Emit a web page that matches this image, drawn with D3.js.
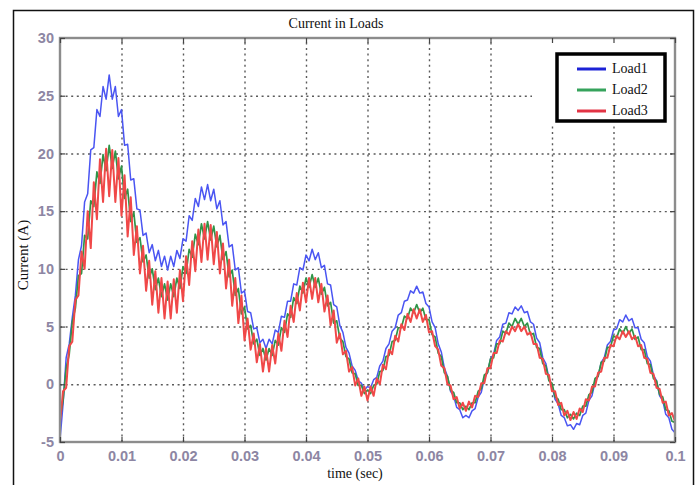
<!DOCTYPE html>
<html>
<head>
<meta charset="utf-8">
<script src="https://cdn.jsdelivr.net/npm/d3@7"></script>
<style>
  html, body { margin: 0; padding: 0; background: #fff; }
  svg { display: block; }
</style>
</head>
<body>
<svg id="chart" width="698" height="485"></svg>
<script>
// Sampling step of the simulated load currents (seconds)
const dt = 0.0005;

const seriesNames = ["Load1", "Load2", "Load3"];

const xTicks = [0, 0.01, 0.02, 0.03, 0.04, 0.05, 0.06, 0.07, 0.08, 0.09, 0.1];
const xTickLabels = ["0", "0.01", "0.02", "0.03", "0.04", "0.05", "0.06", "0.07", "0.08", "0.09", "0.1"];
const yTicks = [-5, 0, 5, 10, 15, 20, 25, 30];
const yTickLabels = ["-5", "0", "5", "10", "15", "20", "25", "30"];

// Load currents (A), one sample every dt from t = 0 to t = 0.1 s
const load1 = [-4.8,-1.7,2.3,3.5,5.8,7.7,10.8,12.0,15.8,16.5,20.3,20.5,23.8,23.2,25.8,24.7,26.8,24.7,25.8,23.2,23.8,20.7,20.8,17.7,17.8,15.2,15.1,12.9,13.1,11.4,12.1,10.7,11.6,10.2,11.1,9.9,11.1,10.2,11.6,10.9,12.6,12.4,14.6,14.2,16.1,15.4,17.1,16.0,17.3,15.9,16.9,15.2,15.9,13.8,14.1,11.9,12.1,9.9,10.1,7.9,8.1,6.3,6.2,4.8,4.9,3.6,3.9,3.1,3.9,3.5,4.7,4.5,5.9,5.8,7.2,7.2,8.7,8.6,10.1,9.9,11.2,10.7,11.7,10.8,11.4,10.1,10.3,8.7,8.6,6.9,6.7,5.1,4.5,3.2,2.7,1.6,1.2,0.3,0.1,-0.5,-0.2,-0.3,0.4,0.6,1.6,2.0,3.1,3.5,4.6,4.9,6.0,6.2,7.2,7.3,8.1,7.9,8.5,7.9,8.0,7.0,6.7,5.4,4.9,3.5,2.8,1.4,0.7,-0.6,-1.0,-2.0,-2.2,-2.9,-2.7,-2.9,-2.3,-2.1,-1.1,-0.7,0.5,1.0,2.2,2.6,3.8,4.1,5.2,5.3,6.2,6.1,6.7,6.4,6.8,6.2,6.3,5.4,5.2,4.0,3.6,2.3,1.8,0.5,-0.1,-1.3,-1.7,-2.7,-2.9,-3.6,-3.5,-3.9,-3.4,-3.5,-2.7,-2.5,-1.4,-1.0,0.2,0.7,1.9,2.3,3.4,3.7,4.7,4.8,5.6,5.4,6.0,5.5,5.7,4.9,4.9,3.9,3.6,2.4,2.0,0.8,0.3,-1.0,-1.4,-2.6,-2.9,-3.9,-4.2];

const load2 = [-3.0,-1.4,1.4,2.6,5.4,6.6,9.4,9.6,12.9,12.6,15.9,15.4,18.4,17.4,19.9,18.5,20.7,18.7,20.2,17.8,18.9,16.1,16.9,14.1,14.9,12.3,12.7,10.6,11.2,9.2,10.0,8.2,9.2,7.6,8.7,7.3,8.7,7.6,9.2,8.3,10.2,9.6,11.7,11.0,13.0,12.1,13.9,12.6,14.1,12.5,13.7,11.9,12.9,10.8,11.5,9.3,9.9,7.7,8.3,6.1,6.7,4.8,5.1,3.5,3.9,2.5,3.1,2.1,3.1,2.5,3.8,3.4,4.9,4.5,6.1,5.8,7.5,7.0,8.5,7.9,9.2,8.4,9.5,8.4,9.2,7.8,8.4,6.8,7.1,5.3,5.5,4.0,3.7,2.4,2.2,1.0,0.9,-0.1,-0.1,-0.8,-0.5,-0.8,-0.1,0.0,1.1,1.2,2.4,2.5,3.7,3.8,4.9,4.9,5.9,5.7,6.6,6.2,6.9,6.2,6.6,5.6,5.6,4.3,4.1,2.7,2.4,1.0,0.7,-0.5,-0.7,-1.6,-1.6,-2.2,-1.9,-2.2,-1.6,-1.6,-0.6,-0.4,0.8,1.0,2.2,2.3,3.5,3.5,4.6,4.4,5.3,5.0,5.7,5.2,5.7,5.0,5.3,4.3,4.4,3.2,3.1,1.8,1.6,0.3,0.1,-1.1,-1.3,-2.2,-2.2,-2.9,-2.6,-3.0,-2.5,-2.7,-1.9,-1.9,-0.9,-0.7,0.5,0.7,1.9,2.0,3.2,3.2,4.2,4.0,4.8,4.4,5.0,4.4,4.8,3.9,4.1,3.0,3.0,1.8,1.7,0.5,0.3,-0.9,-1.1,-2.2,-2.3,-3.2,-3.3];

const load3 = [-3.3,-0.6,-0.3,3.3,3.7,7.3,7.7,11.5,10.0,15.0,11.8,17.5,14.3,19.5,15.8,20.4,16.3,20.3,15.8,19.6,14.6,18.1,12.8,16.2,11.2,13.7,9.6,12.0,8.1,10.7,6.9,9.8,6.2,9.2,5.7,8.9,5.7,9.1,6.2,9.9,7.2,11.1,8.6,12.4,9.8,13.4,10.6,13.9,10.8,13.8,10.4,13.2,9.6,12.2,8.3,10.8,6.8,9.2,5.3,7.7,3.8,5.7,3.0,4.4,1.9,3.5,1.1,3.1,1.1,3.4,1.8,4.4,2.9,5.5,4.1,6.8,5.4,7.9,6.4,8.8,7.1,9.2,7.4,9.2,7.1,8.7,6.3,7.7,5.1,6.4,3.6,4.4,2.6,2.9,1.1,1.5,-0.1,0.5,-1.0,-0.2,-1.4,-0.2,-1.0,0.5,0.0,1.7,1.3,3.0,2.6,4.2,3.7,5.2,4.7,6.1,5.4,6.5,5.7,6.5,5.4,6.0,4.5,4.6,3.3,3.0,1.6,1.4,0.0,-0.1,-1.3,-1.1,-2.1,-1.6,-2.3,-1.5,-2.0,-1.0,-1.1,0.1,0.1,1.4,1.4,2.7,2.7,3.8,3.7,4.6,4.3,5.0,4.6,5.2,4.6,5.0,4.3,4.5,3.5,3.5,2.3,2.2,0.9,0.8,-0.6,-0.6,-1.8,-1.6,-2.7,-2.3,-3.1,-2.4,-3.0,-2.1,-2.4,-1.3,-1.4,-0.2,-0.2,1.0,1.1,2.3,2.3,3.4,3.3,4.2,3.9,4.6,4.1,4.6,3.9,4.2,3.3,3.4,2.3,2.2,1.0,0.9,-0.3,-0.4,-1.6,-1.5,-2.7,-2.5,-3.2];

const svg = d3.select("#chart");
const W = 698, H = 485;
const plot = { left: 60, right: 675, top: 38, bottom: 442 };

const x = d3.scaleLinear().domain([0, 0.1]).range([plot.left, plot.right]);
const y = d3.scaleLinear().domain([-5, 30]).range([plot.bottom, plot.top]);

const serifFont = "'Liberation Serif', 'Times New Roman', serif";
const sansFont = "'Liberation Sans', Arial, sans-serif";
const tickColor = "#8d86a3";

svg.append("rect").attr("width", W).attr("height", H).attr("fill", "#fff");

// Figure frame
svg.append("rect")
  .attr("x", 13.5).attr("y", 10.5)
  .attr("width", 680).attr("height", 520)
  .attr("fill", "none").attr("stroke", "#111").attr("stroke-width", 1.5);

// Dotted grid
const gridX = svg.append("g")
  .attr("transform", `translate(0,${plot.bottom})`)
  .call(d3.axisBottom(x).tickValues(xTicks.slice(1, -1)).tickSize(-(plot.bottom - plot.top)).tickFormat(""));
const gridY = svg.append("g")
  .attr("transform", `translate(${plot.left},0)`)
  .call(d3.axisLeft(y).tickValues(yTicks.slice(1, -1)).tickSize(-(plot.right - plot.left)).tickFormat(""));
[gridX, gridY].forEach(g => {
  g.select(".domain").remove();
  g.selectAll("line")
    .attr("stroke", "#5a5a5a")
    .attr("stroke-width", 1.4)
    .attr("stroke-dasharray", "2,3.6");
});

// Current traces
const clipId = "plot-clip";
svg.append("clipPath").attr("id", clipId)
  .append("rect")
  .attr("x", plot.left).attr("y", plot.top)
  .attr("width", plot.right - plot.left).attr("height", plot.bottom - plot.top);

const line = d3.line()
  .x((d, i) => x(i * dt))
  .y(d => y(d));

const traces = [
  { name: seriesNames[0], values: load1, color: "#4a55f2", width: 1.5 },
  { name: seriesNames[1], values: load2, color: "#2f9447", width: 1.7 },
  { name: seriesNames[2], values: load3, color: "#f04848", width: 2.0 }
];

const traceG = svg.append("g").attr("clip-path", `url(#${clipId})`);
traces.forEach(s => {
  traceG.append("path")
    .datum(s.values)
    .attr("d", line)
    .attr("fill", "none")
    .attr("stroke", s.color)
    .attr("stroke-width", s.width)
    .attr("stroke-linejoin", "round");
});

// Legend backdrop hides the grid underneath it
svg.append("rect")
  .attr("x", 532).attr("y", plot.top + 2)
  .attr("width", 141).attr("height", 83)
  .attr("fill", "#fff");

// Axes box
svg.append("rect")
  .attr("x", plot.left).attr("y", plot.top)
  .attr("width", plot.right - plot.left).attr("height", plot.bottom - plot.top)
  .attr("fill", "none").attr("stroke", "#8c8c8c").attr("stroke-width", 2.4);

// Inward tick marks on all four sides
function styleTicks(g) {
  g.select(".domain").remove();
  g.selectAll("line").attr("stroke", "#444").attr("stroke-width", 1.2);
}
svg.append("g").attr("transform", `translate(0,${plot.bottom})`)
  .call(d3.axisBottom(x).tickValues(xTicks).tickSize(-5).tickFormat("")).call(styleTicks);
svg.append("g").attr("transform", `translate(0,${plot.top})`)
  .call(d3.axisTop(x).tickValues(xTicks).tickSize(-5).tickFormat("")).call(styleTicks);
svg.append("g").attr("transform", `translate(${plot.left},0)`)
  .call(d3.axisLeft(y).tickValues(yTicks).tickSize(-5).tickFormat("")).call(styleTicks);
svg.append("g").attr("transform", `translate(${plot.right},0)`)
  .call(d3.axisRight(y).tickValues(yTicks).tickSize(-5).tickFormat("")).call(styleTicks);

// Tick labels
const xLab = svg.append("g").attr("transform", `translate(0,${plot.bottom})`)
  .call(d3.axisBottom(x).tickValues(xTicks).tickSize(0).tickPadding(9)
    .tickFormat((d, i) => xTickLabels[i]));
const yLab = svg.append("g").attr("transform", `translate(${plot.left},0)`)
  .call(d3.axisLeft(y).tickValues(yTicks).tickSize(0).tickPadding(6)
    .tickFormat((d, i) => yTickLabels[i]));
[xLab, yLab].forEach(g => {
  g.select(".domain").remove();
  g.selectAll("text")
    .attr("fill", tickColor)
    .style("font-family", sansFont)
    .style("font-size", "14.5px")
    .style("font-weight", "bold");
});

// Title and axis labels
svg.append("text")
  .attr("x", 336).attr("y", 28)
  .attr("text-anchor", "middle")
  .style("font-family", serifFont).style("font-size", "14px").attr("fill", "#111")
  .text("Current in Loads");

svg.append("text")
  .attr("x", 355).attr("y", 478)
  .attr("text-anchor", "middle")
  .style("font-family", serifFont).style("font-size", "14px").attr("fill", "#111")
  .text("time (sec)");

svg.append("text")
  .attr("transform", "translate(28,255) rotate(-90)")
  .attr("text-anchor", "middle")
  .style("font-family", serifFont).style("font-size", "15px").attr("fill", "#111")
  .text("Current (A)");

// Legend
const legendColors = ["#1c22d6", "#36a35c", "#e23445"];
const lg = svg.append("g");
lg.append("rect")
  .attr("x", 557).attr("y", 54)
  .attr("width", 108).attr("height", 67)
  .attr("fill", "#fff").attr("stroke", "#000").attr("stroke-width", 3.5);
seriesNames.forEach((name, i) => {
  const cy = 69 + i * 21;
  lg.append("line")
    .attr("x1", 577).attr("x2", 606)
    .attr("y1", cy).attr("y2", cy)
    .attr("stroke", legendColors[i]).attr("stroke-width", 3);
  lg.append("text")
    .attr("x", 612).attr("y", cy + 4)
    .style("font-family", serifFont).style("font-size", "14px").attr("fill", "#111")
    .text(name);
});
</script>
</body>
</html>
